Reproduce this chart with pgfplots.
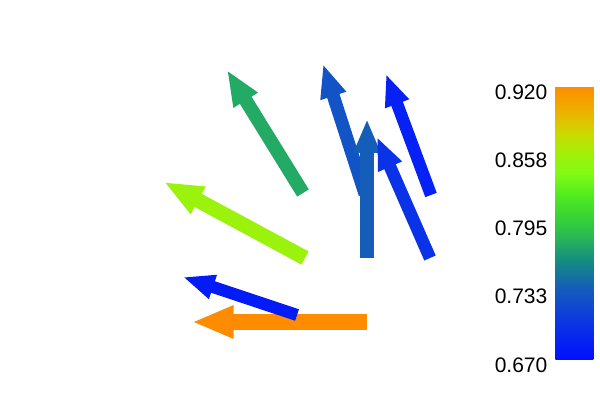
\documentclass[border=0pt]{standalone}
\usepackage{pgfplots}
\pgfplotsset{compat=1.18}
\usepackage{fontspec}
\setmainfont{Liberation Sans}
\usetikzlibrary{arrows.meta,calc}
\pgfplotstableread{
x y u v c
367 322 -175 0 0.92
297 315 -114 -38 0.68
305 258 -141 -76 0.855
303 193 -76 -123 0.775
365 194 -42 -130 0.727
367 258 0 -139 0.735
430 258 -53 -121 0.70
431 195 -45 -121 0.685
}\arrowdata
\begin{document}
\begin{tikzpicture}
\begin{axis}[
  scale only axis, width=450pt, height=300pt,
  xmin=0, xmax=600, ymin=0, ymax=400, y dir=reverse,
  axis lines=none, ticks=none, clip=false,
  colormap={pv}{rgb255(0pt)=(0,16,255) rgb255(30pt)=(10,50,230) rgb255(63pt)=(20,90,190) rgb255(90pt)=(20,140,130) rgb255(110pt)=(40,180,90) rgb255(125pt)=(50,205,60) rgb255(150pt)=(80,235,30) rgb255(170pt)=(130,250,20) rgb255(188pt)=(160,240,10) rgb255(205pt)=(200,220,0) rgb255(225pt)=(235,180,0) rgb255(250pt)=(255,140,0)},
  point meta min=0.67, point meta max=0.92,
  colorbar,
  colorbar/width=28.5pt,
  colorbar style={
    at={($(parent axis.north west)+(408pt,-64.5pt)$)}, anchor=north west,
    scale only axis, width=28.5pt, height=204.75pt,
    y dir=normal,
    axis line style={draw=none},
    ytick={0.67,0.7325,0.795,0.8575,0.92},
    yticklabels={0.670,0.733,0.795,0.858,0.920},
    yticklabel pos=left,
    major tick length=0pt,
    yticklabel style={font=\fontsize{15.75pt}{18pt}\selectfont, yshift=-4.5pt, xshift=-2.5pt},
  },
]
\addplot[point meta=\thisrow{c},
  quiver={u=\thisrow{u}, v=\thisrow{v}, colored=mapped color,
    every arrow/.append style={line width={9pt+3pt*\pgfplotspointmetatransformed/1000},
      -{Triangle[length=0pt 2.6, width=0pt 1.9]}}}]
  table[x=x, y=y] {\arrowdata};
\end{axis}
\pgfresetboundingbox
\path[use as bounding box] (0,0) rectangle (450pt,300pt);
\end{tikzpicture}
\end{document}
